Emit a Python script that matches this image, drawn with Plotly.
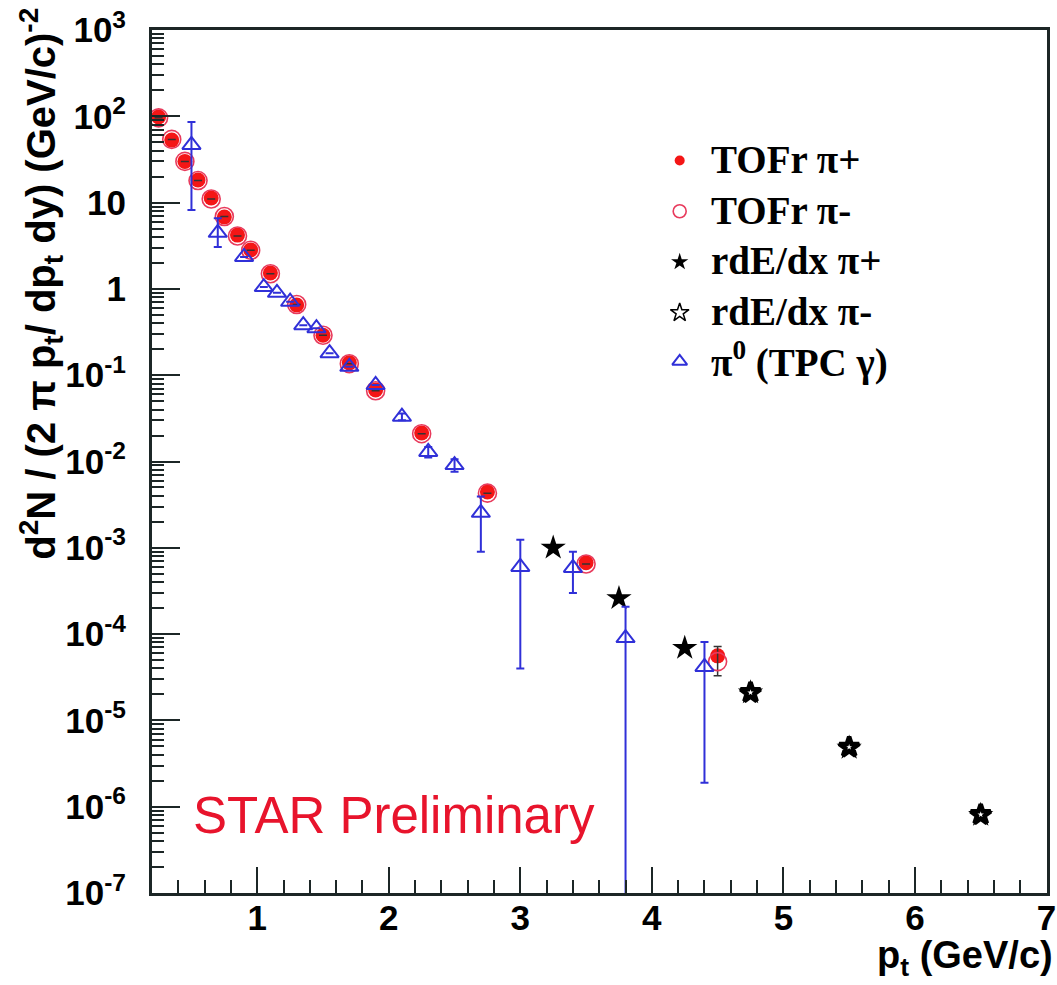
import plotly.graph_objects as go

# ---- TOFr charged pions ----
tof_pt = [0.25, 0.35, 0.45, 0.55, 0.65, 0.75, 0.85, 0.95, 1.1, 1.3, 1.5, 1.7,
          1.9, 2.25, 2.75, 3.5, 4.5]
tof_pip = [98, 53, 30, 18.3, 11.3, 6.8, 4.2, 2.83, 1.53, 0.65, 0.29, 0.139,
           0.0676, 0.0214, 0.00444, 6.7e-4, 5.6e-5]
tof_pim = [96, 54, 30, 18.0, 11.0, 6.9, 4.1, 2.8, 1.50, 0.66, 0.29, 0.136,
           0.066, 0.021, 0.0043, 6.5e-4, 4.8e-5]
tof_pim_err_up = [0, 0, 0, 0, 0, 0, 0, 0, 0, 0, 0, 0, 0, 0, 0, 0, 2.4e-5]
tof_pim_err_dn = [0, 0, 0, 0, 0, 0, 0, 0, 0, 0, 0, 0, 0, 0, 0, 0, 1.5e-5]

# ---- relativistic dE/dx charged pions ----
rde_pt_pos = [3.25, 3.75, 4.25, 4.75, 5.5, 6.5]
rde_pip = [1.0e-3, 2.6e-4, 6.9e-5, 2.1e-5, 4.8e-6, 8.0e-7]
rde_pt_neg = [4.75, 5.5, 6.5]
rde_pim = [2.1e-5, 4.9e-6, 8.1e-7]

# ---- neutral pions from TPC photon conversions ----
pi0_pt = [0.5, 0.7, 0.9, 1.05, 1.15, 1.25, 1.35, 1.45, 1.55, 1.7, 1.9, 2.1,
          2.3, 2.5, 2.7, 3.0, 3.4, 3.8, 4.4]
pi0_y = [46.6, 4.46, 2.35, 1.05, 0.9, 0.71, 0.38, 0.35, 0.18, 0.125, 0.077,
         0.033, 0.0129, 0.0091, 0.00254, 6.0e-4, 5.85e-4, 9.0e-5, 4.17e-5]
pi0_err_up = [39.4, 2.14, 0, 0, 0, 0, 0, 0, 0, 0, 0, 0.003,
              0.0018, 0.0015, 1.4e-3, 6.4e-4, 3.15e-4, 1.17e-4, 3.93e-5]
pi0_err_dn = [38.4, 1.40, 0, 0, 0, 0, 0, 0, 0, 0, 0, 0.003,
              0.0018, 0.0015, 1.64e-3, 5.6e-4, 2.85e-4, 1.2e-4, 3.98e-5]

# ---- legend entries ----
legend_labels = ["<b>TOFr π+</b>", "<b>TOFr π-</b>", "<b>rdE/dx π+</b>",
                 "<b>rdE/dx π-</b>", "<b>π<sup>0</sup> (TPC γ)</b>"]

# ---- axis ticks ----
y_tickvals = [1e-7, 1e-6, 1e-5, 1e-4, 1e-3, 1e-2, 1e-1, 1, 10, 100, 1000]
y_ticktext = ["10<sup>-7</sup>", "10<sup>-6</sup>", "10<sup>-5</sup>",
              "10<sup>-4</sup>", "10<sup>-3</sup>", "10<sup>-2</sup>",
              "10<sup>-1</sup>", "1", "10", "10<sup>2</sup>", "10<sup>3</sup>"]
x_tickvals = [1, 2, 3, 4, 5, 6, 7]
x_ticktext = ["1", "2", "3", "4", "5", "6", "7"]

RED = "#f41616"
RING = "#e83a5c"
BLUE = "#3030d8"
AXIS = "#1c2626"
SANS = "Liberation Sans"
SERIF = "Liberation Serif"

# marker styles shared by the data and the legend keys
styles = [
    dict(symbol="circle", color=RED, line=dict(width=0)),
    dict(symbol="circle-open", color=RING, line=dict(width=1.6)),
    dict(symbol="star", color="black", line=dict(width=0)),
    dict(symbol="star-open", color="black", line=dict(width=1.5)),
    dict(symbol="triangle-up-open", color=BLUE, line=dict(width=2)),
]
key_sizes = [10, 13, 13, 14, 13]

fig = go.Figure()

fig.add_trace(go.Scatter(
    x=tof_pt, y=tof_pip, mode="markers", name=legend_labels[0],
    marker=dict(size=15, **styles[0]),
))
fig.add_trace(go.Scatter(
    x=tof_pt, y=tof_pim, mode="markers", name=legend_labels[1],
    marker=dict(size=18, **styles[1]),
    error_y=dict(type="data", array=tof_pim_err_up, arrayminus=tof_pim_err_dn,
                 color="#333333", thickness=1.5, width=4),
))
fig.add_trace(go.Scatter(
    x=rde_pt_pos, y=rde_pip, mode="markers", name=legend_labels[2],
    marker=dict(size=19, **styles[2]),
))
fig.add_trace(go.Scatter(
    x=rde_pt_neg, y=rde_pim, mode="markers", name=legend_labels[3],
    marker=dict(symbol="star", size=15, color="white",
                line=dict(width=4.5, color="black")),
))
fig.add_trace(go.Scatter(
    x=pi0_pt, y=pi0_y, mode="markers", name=legend_labels[4],
    marker=dict(size=16, **styles[4]), cliponaxis=False,
    error_y=dict(type="data", array=pi0_err_up, arrayminus=pi0_err_dn,
                 color=BLUE, thickness=2, width=4),
))

# legend block: keys on an overlay axis spanning the plot area,
# labels as one multi-line text block next to them
key_x, text_x = 0.5896, 0.6228
row_y = [0.8488, 0.7900, 0.7312, 0.6724, 0.6160]
for i in range(len(legend_labels)):
    fig.add_trace(go.Scatter(
        x=[key_x], y=[row_y[i]], xaxis="x2", yaxis="y2", mode="markers",
        marker=dict(size=key_sizes[i], **styles[i]),
        showlegend=False, hoverinfo="skip",
    ))
fig.add_annotation(
    text="<br>".join(legend_labels), xref="paper", yref="paper",
    x=text_x, y=row_y[2], xanchor="left", yanchor="middle", align="left",
    showarrow=False, font=dict(family=SERIF, size=39, color="black"),
)

fig.update_xaxes(
    range=[0.2, 7.004], showgrid=False, zeroline=False,
    showline=True, linewidth=3, linecolor=AXIS, mirror=True,
    ticks="inside", ticklen=26, tickwidth=2, tickcolor=AXIS,
    tickvals=x_tickvals, ticktext=x_ticktext, ticklabelstandoff=-8,
    ticklabeloverflow="allow",
    tickfont=dict(family=SANS, size=35, color="black", weight="bold"),
    minor=dict(ticks="inside", ticklen=13, tickwidth=2, tickcolor=AXIS,
               dtick=0.2, tick0=0, showgrid=False),
)
fig.update_yaxes(
    type="log", range=[-7, 3], showgrid=False, zeroline=False,
    showline=True, linewidth=3, linecolor=AXIS, mirror=True,
    ticks="inside", ticklen=28, tickwidth=2, tickcolor=AXIS,
    tickvals=y_tickvals, ticktext=y_ticktext, ticklabelstandoff=16,
    tickfont=dict(family=SANS, size=35, color="black", weight="bold"),
    minor=dict(ticks="inside", ticklen=12, tickwidth=2, tickcolor=AXIS,
               dtick="D1", showgrid=False),
)

fig.add_annotation(
    text="STAR Preliminary", xref="x", yref="y", x=0.5, y=-6.1,
    xanchor="left", yanchor="middle", showarrow=False,
    font=dict(family=SANS, size=51, color="#e8142c"),
)
fig.add_annotation(
    text="<b>p<sub>t</sub> (GeV/c)</b>", xref="paper", yref="paper",
    x=1.0, y=-0.075, xanchor="right", yanchor="middle", showarrow=False,
    xshift=8, font=dict(family=SANS, size=38, color="black"),
)
fig.add_annotation(
    text="<b>d<sup>2</sup>N / (2 π p<sub>t</sub>/ dp<sub>t</sub> dy) (GeV/c)<sup>-2</sup></b>",
    xref="paper", yref="paper", x=-0.124, y=0.706, textangle=-90,
    xanchor="center", yanchor="middle", showarrow=False,
    font=dict(family=SANS, size=40, color="black"),
)

fig.update_layout(
    width=1057, height=985,
    margin=dict(l=152, r=1, t=30, b=92),
    paper_bgcolor="white", plot_bgcolor="white",
    showlegend=False,
    xaxis2=dict(overlaying="x", range=[0, 1], visible=False),
    yaxis2=dict(overlaying="y", range=[0, 1], visible=False),
)

fig.write_html("out.html")
